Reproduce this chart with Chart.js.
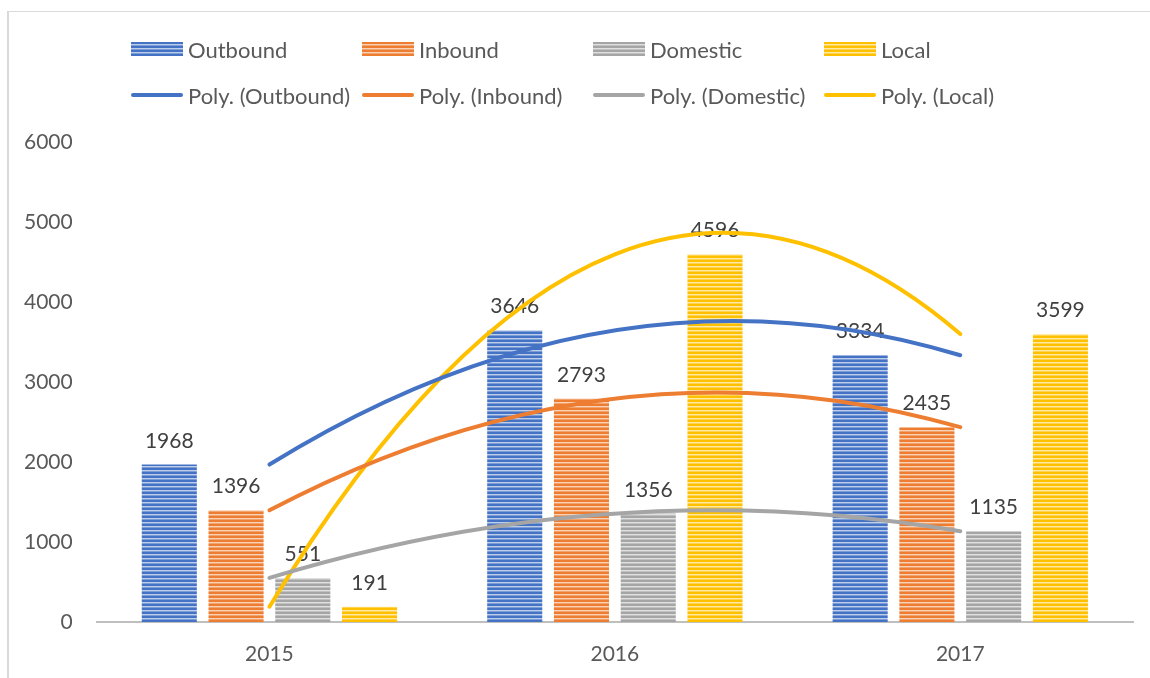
<!DOCTYPE html>
<html>
<head>
<meta charset="utf-8">
<script src="https://cdn.jsdelivr.net/npm/chart.js@4"></script>
<style>
  html, body { margin: 0; padding: 0; background: #fff; }
  #wrap { position: relative; width: 1150px; height: 678px; overflow: hidden; font-family: Lato, sans-serif; }
  #frame { position: absolute; left: 7px; top: 11px; width: 1200px; height: 700px; border-left: 2px solid #D9D9D9; border-top: 1px solid #D9D9D9; }
  #grafico { position: absolute; left: 0; top: 0; }
  #leyenda { position: absolute; left: 131px; top: 26px; display: grid; grid-template-columns: repeat(4, 231px); grid-auto-rows: 46px; }
  .item { display: flex; align-items: center; font-size: 22px; color: #595959; white-space: nowrap; }
  .item canvas { margin-right: 5px; }
</style>
</head>
<body>
<div id="wrap">
  <div id="frame"></div>
  <canvas id="grafico" width="1150" height="678"></canvas>
  <div id="leyenda"></div>
</div>
<script>
// datos
const anios = ['2015', '2016', '2017'];
const outbound = [1968, 3646, 3334];
const inbound = [1396, 2793, 2435];
const domestic = [551, 1356, 1135];
const local = [191, 4596, 3599];
const ticksY = [0, 1000, 2000, 3000, 4000, 5000, 6000];

const azul = '#4472C4';
const naranja = '#ED7D31';
const gris = '#A5A5A5';
const dorado = '#FFC000';

// relleno a rayas horizontales como el de Excel
const rayas = (color) => {
  const c = document.createElement('canvas');
  c.width = 8; c.height = 4;
  const g = c.getContext('2d');
  g.fillStyle = color; g.fillRect(0, 0, 8, 4);
  g.fillStyle = 'rgba(255,255,255,0.65)'; g.fillRect(0, 2, 8, 1);
  g.fillStyle = 'rgba(255,255,255,0.3)'; g.fillRect(0, 3, 8, 1);
  return g.createPattern(c, 'repeat');
};

const barra = (label, data, color) => ({
  type: 'bar', label, data, order: 2,
  backgroundColor: rayas(color), colorBase: color,
  categoryPercentage: 0.773, barPercentage: 0.825
});
const tendencia = (label, data, color) => ({
  type: 'line', label, data, order: 1,
  borderColor: color, borderWidth: 4, pointRadius: 0, fill: false
});

// etiquetas de valor encima de cada barra
const etiquetas = {
  id: 'etiquetas',
  afterDatasetDraw(chart, args) {
    if (args.meta.type !== 'bar') return;
    const ctx = chart.ctx;
    const valores = chart.data.datasets[args.index].data;
    ctx.save();
    ctx.font = '21px Lato';
    ctx.fillStyle = '#404040';
    ctx.textAlign = 'center';
    ctx.textBaseline = 'alphabetic';
    args.meta.data.forEach((b, i) => ctx.fillText(String(valores[i]), b.x, b.y - 17));
    ctx.restore();
  }
};

// línea de tendencia polinómica (orden 2): por tres puntos es una parábola
const parabola = {
  id: 'parabola',
  beforeDatasetDraw(chart, args) {
    if (args.meta.type !== 'line') return;
    const [p0, p1, p2] = args.meta.data;
    const ds = chart.data.datasets[args.index];
    const ctx = chart.ctx;
    const cy = 2 * p1.y - (p0.y + p2.y) / 2;
    ctx.save();
    ctx.beginPath();
    ctx.moveTo(p0.x, p0.y);
    ctx.quadraticCurveTo(p1.x, cy, p2.x, p2.y);
    ctx.strokeStyle = ds.borderColor;
    ctx.lineWidth = ds.borderWidth;
    ctx.lineCap = 'round';
    ctx.stroke();
    ctx.restore();
    return false;
  }
};

const grafico = new Chart(document.getElementById('grafico'), {
  data: {
    labels: anios,
    datasets: [
      barra('Outbound', outbound, azul),
      barra('Inbound', inbound, naranja),
      barra('Domestic', domestic, gris),
      barra('Local', local, dorado),
      tendencia('Poly. (Outbound)', outbound, azul),
      tendencia('Poly. (Inbound)', inbound, naranja),
      tendencia('Poly. (Domestic)', domestic, gris),
      tendencia('Poly. (Local)', local, dorado)
    ]
  },
  options: {
    responsive: false,
    animation: false,
    devicePixelRatio: 1,
    layout: { padding: { top: 142, left: 0, right: 17, bottom: 0 } },
    plugins: { legend: { display: false }, tooltip: { enabled: false } },
    scales: {
      x: {
        afterFit: (s) => { s.height = 56; },
        grid: { display: false, drawTicks: false },
        border: { display: true, color: '#BFBFBF', width: 2 },
        ticks: { color: '#595959', font: { family: 'Lato', size: 21 }, padding: 20 }
      },
      y: {
        min: 0, max: 6000,
        afterBuildTicks: (s) => { s.ticks = ticksY.map(v => ({ value: v })); },
        grid: { display: false, drawTicks: false },
        border: { display: false },
        ticks: { color: '#595959', font: { family: 'Lato', size: 21 }, padding: 24, callback: (v) => String(v) }
      }
    }
  },
  plugins: [etiquetas, parabola]
});

// leyenda en cuadrícula (dos filas, cuatro columnas)
const leyenda = document.getElementById('leyenda');
grafico.data.datasets.forEach(ds => {
  const item = document.createElement('div');
  item.className = 'item';
  const c = document.createElement('canvas');
  c.width = 52; c.height = 14;
  const g = c.getContext('2d');
  if (ds.type === 'bar') {
    g.fillStyle = rayas(ds.colorBase);
    g.fillRect(0, 0, 52, 14);
  } else {
    g.strokeStyle = ds.borderColor;
    g.lineWidth = 4;
    g.lineCap = 'round';
    g.beginPath(); g.moveTo(2, 7); g.lineTo(50, 7); g.stroke();
  }
  item.appendChild(c);
  item.appendChild(document.createTextNode(ds.label));
  leyenda.appendChild(item);
});
</script>
</body>
</html>
